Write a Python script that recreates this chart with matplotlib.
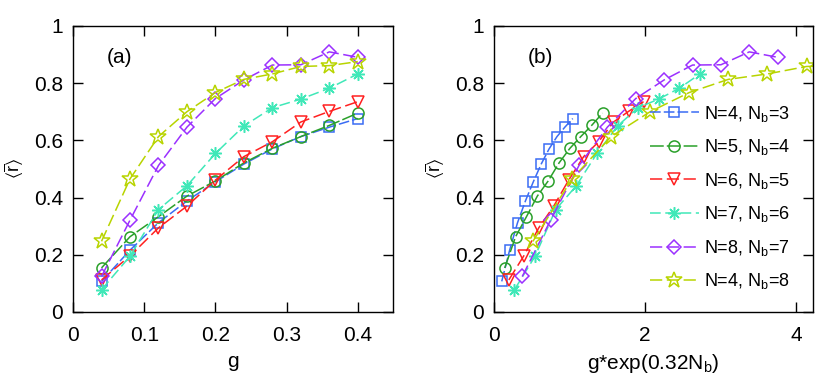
import numpy as np
import matplotlib
matplotlib.use('Agg')
import matplotlib.pyplot as plt

plt.rcParams['font.family'] = ['Liberation Sans', 'DejaVu Sans']
plt.rcParams['mathtext.default'] = 'regular'

# data
g = np.array([0.04, 0.08, 0.12, 0.16, 0.20, 0.24, 0.28, 0.32, 0.36, 0.40])
nb_list = [3, 4, 5, 6, 7, 8]
n_list = [4, 5, 6, 7, 8, 4]

r_nb3 = [0.107, 0.216, 0.312, 0.388, 0.455, 0.517, 0.570, 0.613, 0.646, 0.676]
r_nb4 = [0.154, 0.263, 0.333, 0.405, 0.458, 0.521, 0.572, 0.613, 0.652, 0.695]
r_nb5 = [0.112, 0.196, 0.294, 0.370, 0.461, 0.543, 0.595, 0.664, 0.701, 0.735]
r_nb6 = [0.078, 0.195, 0.358, 0.441, 0.554, 0.650, 0.714, 0.744, 0.782, 0.832]
r_nb7 = [0.124, 0.321, 0.512, 0.646, 0.746, 0.811, 0.863, 0.864, 0.909, 0.890]
r_nb8 = [0.247, 0.465, 0.613, 0.700, 0.767, 0.813, 0.832, 0.858, 0.861, 0.875]
r_all = [r_nb3, r_nb4, r_nb5, r_nb6, r_nb7, r_nb8]

colors = ['#3a6cf4', '#2aa02a', '#ff2020', '#40e8b8', '#9b30ff', '#b8d400']
markers = ['s', 'o', 'v', (8, 2, 0), 'D', '*']
msizes = [7, 8, 9, 9, 7, 12]
dashes = [(7, 2), (9, 2), (8, 3), (7, 3), (8, 3), (8, 3)]

fig = plt.figure(figsize=(8.3, 3.8), dpi=100)
ax1 = fig.add_axes([0.088, 0.179, 0.386, 0.753])
ax2 = fig.add_axes([0.595, 0.179, 0.385, 0.753])

for i in range(6):
    c = colors[i]
    kw = dict(color=c, marker=markers[i], ms=msizes[i], mfc='none', mec=c,
              mew=1.1, lw=1.1, dashes=dashes[i])
    lab = 'N=%d, N$_b$=%d' % (n_list[i], nb_list[i])
    ax1.plot(g, r_all[i], **kw)
    x2 = g * np.exp(0.32 * nb_list[i])
    ax2.plot(x2, r_all[i], label=lab, **kw)

for ax in (ax1, ax2):
    ax.set_ylim(0, 1)
    ax.set_yticks([0, 0.2, 0.4, 0.6, 0.8, 1])
    ax.set_yticklabels(['0', '0.2', '0.4', '0.6', '0.8', '1'])
    ax.tick_params(direction='in', top=True, right=True, length=7, width=1,
                   labelsize=15, pad=7)
    ax.tick_params(axis='x', pad=10)
    ax.set_ylabel(r'$\langle\overline{r}\rangle$', fontsize=13, labelpad=6)
    for s in ax.spines.values():
        s.set_linewidth(1)

ax1.set_xlim(0, 0.45)
ax1.set_xticks([0, 0.1, 0.2, 0.3, 0.4])
ax1.set_xticklabels(['0', '0.1', '0.2', '0.3', '0.4'])
ax1.set_xlabel('g', fontsize=15, labelpad=5)
ax1.text(0.105, 0.89, '(a)', fontsize=15, va='center', transform=ax1.transAxes)

ax2.set_xlim(0, 4.23)
ax2.set_xticks([0, 2, 4])
ax2.set_xlabel('g*exp(0.32N$_b$)', fontsize=15, labelpad=5)
ax2.text(0.105, 0.89, '(b)', fontsize=15, va='center', transform=ax2.transAxes)

ax2.legend(loc='center right', bbox_to_anchor=(0.95, 0.40), frameon=False,
           fontsize=13, handlelength=2.7, labelspacing=0.75, handletextpad=0.3,
           borderaxespad=0)

fig.savefig('out.png', dpi=100)
